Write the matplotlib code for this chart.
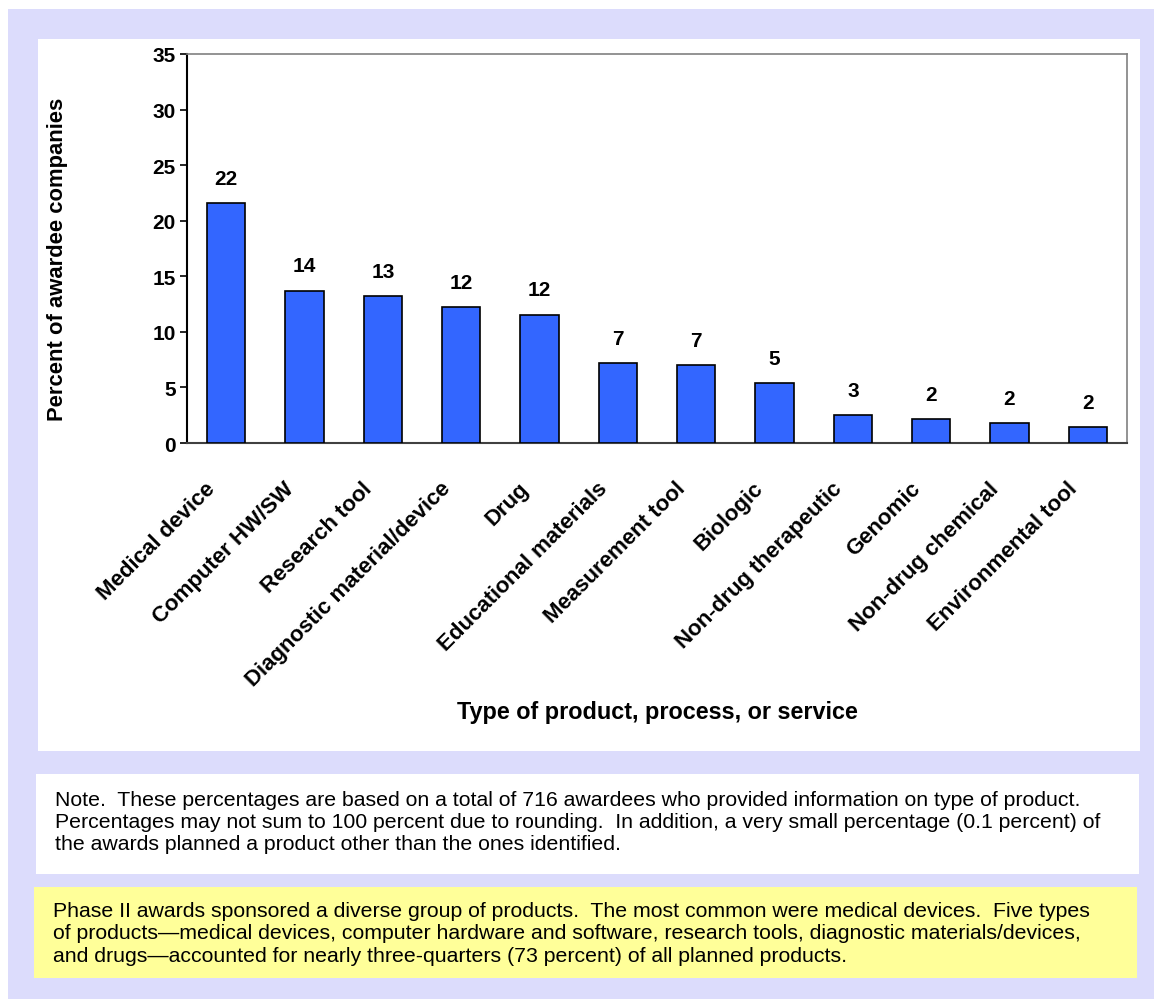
import matplotlib
matplotlib.use("Agg")
import matplotlib.pyplot as plt
from matplotlib.patches import Rectangle
from matplotlib.transforms import ScaledTranslation

# data
categories = ["Medical device", "Computer HW/SW", "Research tool",
              "Diagnostic material/device", "Drug", "Educational materials",
              "Measurement tool", "Biologic", "Non-drug therapeutic",
              "Genomic", "Non-drug chemical", "Environmental tool"]
percents = [21.6, 13.7, 13.2, 12.25, 11.55, 7.2, 7.0, 5.4, 2.5, 2.15, 1.8, 1.45]
bar_labels = ["22", "14", "13", "12", "12", "7", "7", "5", "3", "2", "2", "2"]
y_ticks = [0, 5, 10, 15, 20, 25, 30, 35]

note_text = ("Note.  These percentages are based on a total of 716 awardees who provided information on type of product.\n"
             "Percentages may not sum to 100 percent due to rounding.  In addition, a very small percentage (0.1 percent) of\n"
             "the awards planned a product other than the ones identified.")
summary_text = ("Phase II awards sponsored a diverse group of products.  The most common were medical devices.  Five types\n"
                "of products\u2014medical devices, computer hardware and software, research tools, diagnostic materials/devices,\n"
                "and drugs\u2014accounted for nearly three-quarters (73 percent) of all planned products.")

plt.rcParams['font.family'] = ['Liberation Sans', 'DejaVu Sans']

W, H = 1154, 1004
fig = plt.figure(figsize=(W / 100, H / 100), dpi=100)
fig.patch.set_facecolor("white")

LAV = "#DCDCFC"


def box(x0, y0, x1, y1, color, z=0):
    # pixel coords (top-left origin) -> figure fraction
    fig.patches.append(Rectangle((x0 / W, 1 - y1 / H), (x1 - x0) / W, (y1 - y0) / H,
                                 transform=fig.transFigure, facecolor=color,
                                 edgecolor="none", zorder=z))


box(8, 10, 1154, 1000, LAV)
box(38, 40, 1140, 752, "white")
box(36, 775, 1139, 875, "white")
box(34, 888, 1137, 979, "#FFFF99")

# plot area
ax = fig.add_axes([187 / W, 1 - 444 / H, 940 / W, 389 / H])
ax.set_zorder(5)
ax.set_facecolor("white")

x = list(range(len(categories)))
ax.bar(x, percents, width=0.49, color="#3366FF", edgecolor="black", linewidth=1.2, zorder=3)
for xi, v, lab in zip(x, percents, bar_labels):
    ax.annotate(lab, (xi, v), xytext=(0, 11), textcoords="offset points",
                ha="center", va="bottom", fontsize=15, fontweight="bold")

ax.set_xlim(-0.5, len(categories) - 0.5)
ax.set_ylim(0, 35)
ax.set_yticks(y_ticks)
ax.tick_params(axis="y", direction="out", length=5, width=1.2, labelsize=15, pad=3)
for t in ax.get_yticklabels():
    t.set_fontweight("bold")

ax.set_xticks(x)
ax.set_xticklabels(categories, rotation=45, ha="right", va="center",
                   rotation_mode="anchor", fontsize=16, fontweight="bold")
ax.tick_params(axis="x", length=0, pad=0)
off = ScaledTranslation(-14 / 100, -42 / 100, fig.dpi_scale_trans)
for t in ax.get_xticklabels():
    t.set_transform(t.get_transform() + off)

for side in ["top", "right"]:
    ax.spines[side].set_color("#808080")
    ax.spines[side].set_linewidth(1.2)
ax.spines["left"].set_color("black")
ax.spines["left"].set_linewidth(1.5)
ax.spines["bottom"].set_color("#404040")
ax.spines["bottom"].set_linewidth(1.5)

fig.text(58 / W, 1 - 259 / H, "Percent of awardee companies", rotation=90,
         ha="center", va="center", fontsize=15.8, fontweight="bold")
fig.text(657 / W, 1 - 712 / H, "Type of product, process, or service",
         ha="center", va="center", fontsize=16.8, fontweight="bold")

fig.text(55 / W, 1 - 823 / H, note_text, ha="left", va="center",
         fontsize=15.3, linespacing=1.2)
fig.text(53 / W, 1 - 934 / H, summary_text, ha="left", va="center",
         fontsize=15.3, linespacing=1.25)

fig.savefig("out.png", dpi=100, facecolor="white")
